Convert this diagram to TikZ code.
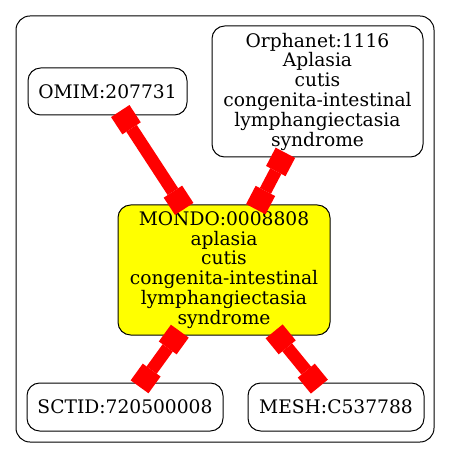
\documentclass[tikz,border=0pt]{standalone}
\usepackage{fontspec}
\setmainfont{DejaVu Serif}
\usetikzlibrary{arrows.meta}
\definecolor{gvyellow}{RGB}{255,255,0}
\definecolor{gvred}{RGB}{255,0,0}
\tikzset{
  box/.style={draw=black, line width=0.75pt, rounded corners=9.5pt, align=center,
    inner sep=0pt, font=\fontsize{14pt}{14.85pt}\selectfont},
  teeline/.style={draw=gvred, line width=9.4pt,
    {Rectangle[width=16.5pt,length=15.5pt,line width=0pt]}-{Rectangle[width=16.5pt,length=15.5pt,line width=0pt]},
    shorten <=-4pt, shorten >=-4pt},
  frame/.style={draw=black, line width=0.75pt, rounded corners=10.5pt}
}
\begin{document}
\begin{tikzpicture}[x=0.75pt,y=-0.75pt]
\useasboundingbox (0,0) rectangle (451,459);
\draw[frame] (16,16) rectangle (434,442);
\node[box, minimum width=119.25pt, minimum height=35.25pt] (omim) at (107.5,91.5) {OMIM:207731};
\node[box, minimum width=158.25pt, minimum height=98.25pt] (orpha) at (317.5,91.5) {Orphanet:1116\\Aplasia\\cutis\\congenita-intestinal\\lymphangiectasia\\syndrome};
\node[box, fill=gvyellow, minimum width=159pt, minimum height=97.5pt] (mondo) at (224,270) {MONDO:0008808\\aplasia\\cutis\\congenita-intestinal\\lymphangiectasia\\syndrome};
\node[box, minimum width=147pt, minimum height=36pt] (sctid) at (125,407) {SCTID:720500008};
\node[box, minimum width=132pt, minimum height=36pt] (mesh) at (336,407) {MESH:C537788};
\draw[teeline] (omim) -- (mondo);
\draw[teeline] (orpha) -- (mondo);
\draw[teeline] (mondo) -- (sctid);
\draw[teeline] (mondo) -- (mesh);
\end{tikzpicture}
\end{document}
